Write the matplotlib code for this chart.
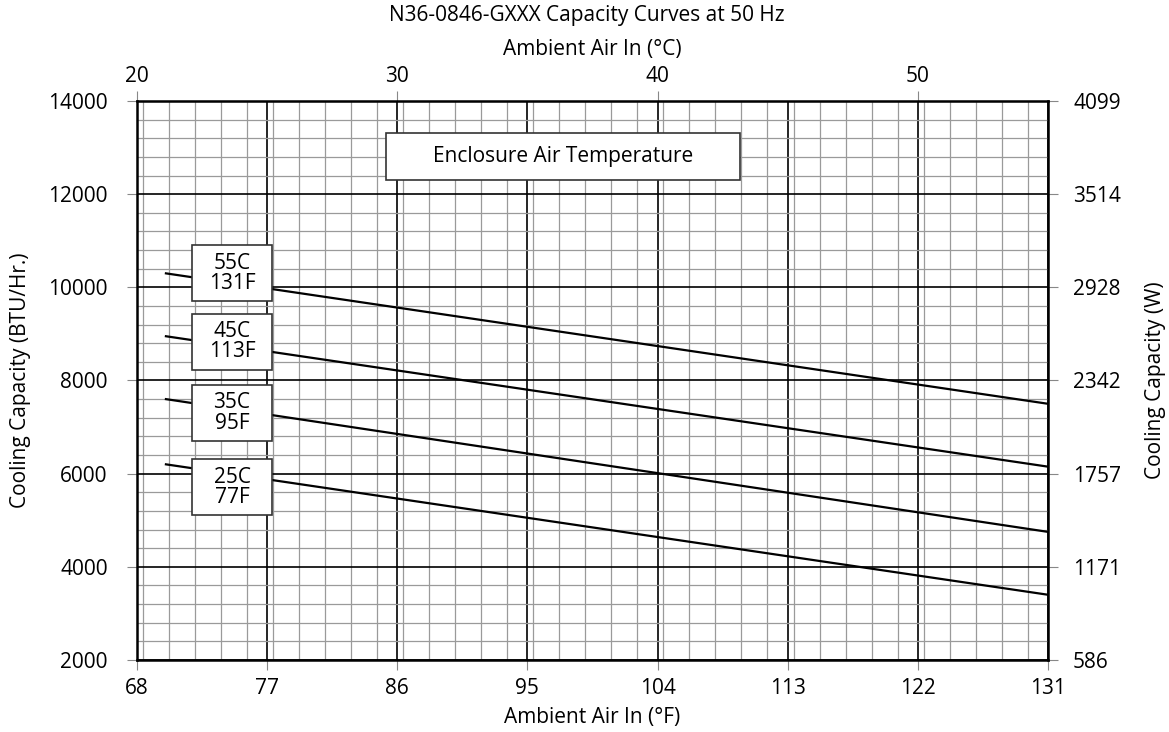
"""Capacity curves chart."""
import matplotlib
matplotlib.use('Agg')
import matplotlib.pyplot as plt
from matplotlib.patches import Rectangle
from matplotlib.ticker import MultipleLocator

plt.rcParams['font.family'] = ['Open Sans', 'DejaVu Sans']

# ambient air in (°F) at both ends of each curve
ambient_f = [70, 131]
curve_names = ['55C\n131F', '45C\n113F', '35C\n95F', '25C\n77F']
capacity_btu = [
    [10300, 7500],
    [8950, 6150],
    [7600, 4750],
    [6200, 3400],
]
# label box centre heights (BTU/Hr.)
label_y = [10300, 8830, 7300, 5710]

f_ticks = [68, 77, 86, 95, 104, 113, 122, 131]
c_ticks = [20, 30, 40, 50]
btu_ticks = [2000, 4000, 6000, 8000, 10000, 12000, 14000]
watt_labels = ['586', '1171', '1757', '2342', '2928', '3514', '4099']

fig = plt.figure(figsize=(11.69, 7.32), dpi=100)
ax = fig.add_axes([0.1172, 0.0984, 0.7793, 0.7636])

for vals in capacity_btu:
    ax.plot(ambient_f, vals, color='black', lw=1.6, zorder=3)

ax.set_xlim(68, 131)
ax.set_ylim(2000, 14000)
ax.set_xticks(f_ticks)
ax.set_yticks(btu_ticks)
ax.xaxis.set_minor_locator(MultipleLocator(1.8))
ax.yaxis.set_minor_locator(MultipleLocator(400))
ax.grid(which='major', color='black', lw=1.2)
ax.grid(which='minor', color='#9a9a9a', lw=0.9)
ax.set_axisbelow(True)
ax.tick_params(which='minor', length=0)
ax.tick_params(which='major', length=7, width=0.8, color='#888888',
               labelsize=15)
ax.tick_params(axis='y', pad=14)
ax.tick_params(axis='x', pad=6)
for sp in ax.spines.values():
    sp.set_linewidth(1.8)

ax.set_xlabel('Ambient Air In (°F)', fontsize=15, va='center')
ax.set_ylabel('Cooling Capacity (BTU/Hr.)', fontsize=15, va='center',
              ha='center')
ax.xaxis.set_label_coords(0.5, -0.1038)
ax.yaxis.set_label_coords(-0.1284, 0.5)

top = ax.secondary_xaxis('top', functions=(lambda f: (f - 32) / 1.8,
                                           lambda c: c * 1.8 + 32))
top.set_xticks(c_ticks)
top.tick_params(length=7, width=0.8, color='#888888', labelsize=15, pad=3)
top.set_xlabel('Ambient Air In (°C)', fontsize=15, labelpad=8)

right = ax.secondary_yaxis('right')
right.set_yticks(btu_ticks, watt_labels)
right.tick_params(length=7, width=0.8, color='#888888', labelsize=15, pad=11)
right.set_ylabel('Cooling Capacity (W)', fontsize=15, labelpad=17)

fig.text(0.502, 0.979, 'N36-0846-GXXX Capacity Curves at 50 Hz',
         ha='center', va='center', fontsize=15)

# curve label boxes
bw, bh = 5.53, 1200
for name, yc in zip(curve_names, label_y):
    ax.add_patch(Rectangle((74.57 - bw / 2, yc - bh / 2), bw, bh,
                           facecolor='white', edgecolor='#333333', lw=1.2,
                           zorder=4))
    ax.text(74.57, yc, name, ha='center', va='center', fontsize=15,
            linespacing=0.95, zorder=5)

ax.add_patch(Rectangle((85.2, 12310), 24.5, 1000, facecolor='white',
                       edgecolor='#333333', lw=1.2, zorder=4))
ax.text(97.45, 12810, 'Enclosure Air Temperature', ha='center',
        va='center', fontsize=15, zorder=5)

fig.savefig('out.png', dpi=100)
